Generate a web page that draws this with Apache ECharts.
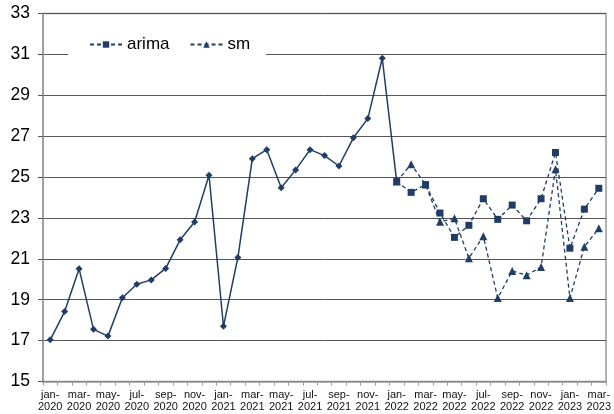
<!DOCTYPE html>
<html>
<head>
<meta charset="utf-8">
<script src="https://cdn.jsdelivr.net/npm/echarts@6/dist/echarts.min.js"></script>
<style>html,body{margin:0;padding:0;background:#fff}#c{width:614px;height:414px}</style>
</head>
<body>
<div id="c"></div>
<script>
const categories = ["jan-2020","feb-2020","mar-2020","apr-2020","may-2020","jun-2020","jul-2020","aug-2020","sep-2020","oct-2020","nov-2020","dec-2020",
"jan-2021","feb-2021","mar-2021","apr-2021","may-2021","jun-2021","jul-2021","aug-2021","sep-2021","oct-2021","nov-2021","dec-2021",
"jan-2022","feb-2022","mar-2022","apr-2022","may-2022","jun-2022","jul-2022","aug-2022","sep-2022","oct-2022","nov-2022","dec-2022",
"jan-2023","feb-2023","mar-2023"];
const actual = [17.04,18.42,20.51,17.55,17.22,19.10,19.76,19.97,20.53,21.93,22.80,25.09,
17.70,21.07,25.90,26.34,24.48,25.35,26.34,26.05,25.54,26.92,27.86,30.81,24.78];
const arima = [24.78,24.25,24.63,23.24,22.05,22.64,23.94,22.93,23.63,22.86,23.94,26.20,21.52,23.43,24.45];
const sm = [24.78,25.63,24.63,22.81,22.98,21.03,22.11,19.08,20.41,20.20,20.60,25.38,19.08,21.59,22.49];
const yTicks = {min:15, max:33, interval:2};

const pad = (arr, start) => categories.map((_, i) => (i >= start && i - start < arr.length) ? arr[i - start] : null);
const fcStart = 24;
const color = '#1f3d66';

const chart = echarts.init(document.getElementById('c'));
chart.setOption({
  animation: false,
  backgroundColor: '#fff',
  grid: {left: 43, right: 5, top: 13.5, bottom: 32.5, show: true, borderColor: '#999', borderWidth: 1.5, backgroundColor: 'transparent'},
  legend: {
    data: ['arima','sm'],
    left: 68, top: 30,
    padding: [6, 16, 6, 21],
    backgroundColor: '#fff',
    itemWidth: 32, itemHeight: 8, itemGap: 20,
    textStyle: {fontFamily: 'Liberation Sans, Arial', fontSize: 17, color: '#000'}
  },
  xAxis: {
    type: 'category',
    data: categories,
    boundaryGap: true,
    axisLine: {lineStyle: {color: '#999', width: 1.5}},
    axisTick: {show: true, interval: 0, length: 4, lineStyle: {color: '#999'}},
    axisLabel: {
      interval: 1, color: '#111', fontFamily: 'Liberation Sans, Arial', fontSize: 11, lineHeight: 12.5, margin: 7,
      formatter: v => v.replace('-', '-\n')
    },
    splitLine: {show: false}
  },
  yAxis: {
    type: 'value',
    min: yTicks.min, max: yTicks.max, interval: yTicks.interval,
    axisLine: {show: true, lineStyle: {color: '#999', width: 1.5}},
    axisTick: {show: true, length: 5, lineStyle: {color: '#555'}},
    axisLabel: {color: '#000', fontFamily: 'Liberation Sans, Arial', fontSize: 17.5, margin: 13},
    splitLine: {show: true, lineStyle: {color: '#555', width: 1}}
  },
  series: [
    {name: 'actual', type: 'line', data: pad(actual, 0), symbol: 'diamond', symbolSize: 7,
     lineStyle: {color: color, width: 1.5}, itemStyle: {color: color}, connectNulls: false},
    {name: 'arima', type: 'line', data: pad(arima, fcStart), symbol: 'rect', symbolSize: 7,
     lineStyle: {color: color, width: 1.3, type: [4, 3]}, itemStyle: {color: color}},
    {name: 'sm', type: 'line', data: pad(sm, fcStart), symbol: 'triangle', symbolSize: 8,
     lineStyle: {color: color, width: 1.3, type: [4, 3]}, itemStyle: {color: color}}
  ]
});
</script>
</body>
</html>
